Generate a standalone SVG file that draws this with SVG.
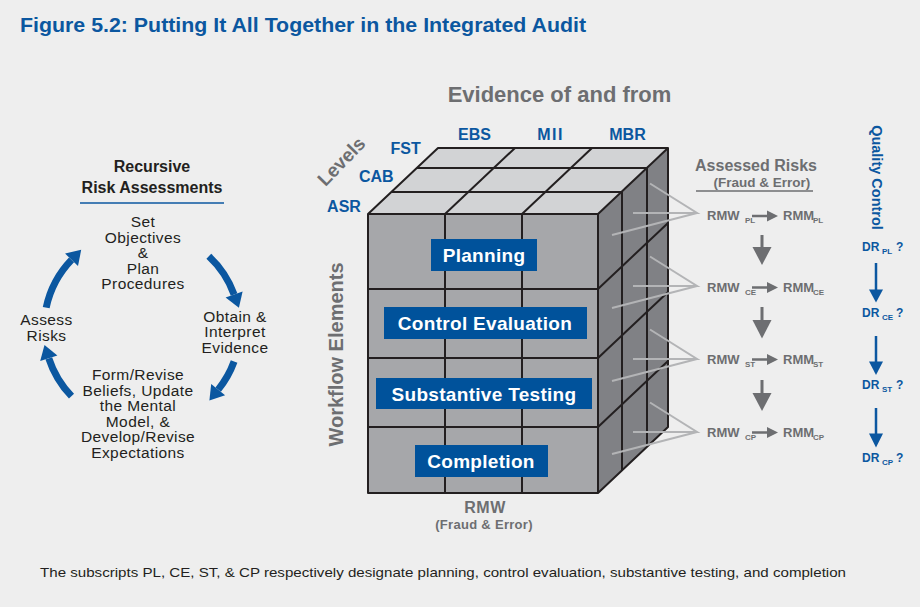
<svg xmlns="http://www.w3.org/2000/svg" width="920" height="607" viewBox="0 0 920 607">
<style>
text{font-family:"Liberation Sans",Arial,sans-serif}
.b{font-weight:bold}
.blue{fill:#0b57a0}
.gray{fill:#6d6e71}
.dark{fill:#231f20}
.cyc{font-size:15.5px;fill:#231f20;text-anchor:middle;letter-spacing:0.4px}
.edge{stroke:#231f20;stroke-width:2;fill:none;stroke-linejoin:round}
.hatch{stroke:#b3b4b6;stroke-width:2;fill:none}
.box{fill:#00529b}
.boxt{font-size:19px;font-weight:bold;fill:#fff;text-anchor:middle;letter-spacing:0.3px}
.arc{stroke:#0b57a0;stroke-width:7;fill:none}
.ahead{fill:#0b57a0}
.rm{font-size:13px;font-weight:bold;fill:#6d6e71}
.sub{font-size:8px;font-weight:bold;fill:#6d6e71}
.dr{font-size:12px;font-weight:bold;fill:#0b57a0}
.drs{font-size:8px;font-weight:bold;fill:#0b57a0}
.lvl{font-size:16px;font-weight:bold;fill:#0b57a0}
</style>
<rect width="920" height="607" fill="#eeeeee"/>

<g id="title">
<text x="20" y="32" class="b blue" font-size="21" textLength="566" lengthAdjust="spacingAndGlyphs">Figure 5.2: Putting It All Together in the Integrated Audit</text>
</g>

<!-- Left: recursive risk assessment cycle -->
<g id="cycle-header">
<text x="152" y="172" class="b dark" font-size="16" text-anchor="middle">Recursive</text>
<text x="152" y="193" class="b dark" font-size="16" text-anchor="middle">Risk Assessments</text>
<line x1="80" y1="203" x2="224" y2="203" stroke="#0b57a0" stroke-width="1.6"/>
</g>
<g id="node-set-objectives">
<text class="cyc" x="143" y="227">Set</text>
<text class="cyc" x="143" y="242.5">Objectives</text>
<text class="cyc" x="143" y="258">&amp;</text>
<text class="cyc" x="143" y="273.5">Plan</text>
<text class="cyc" x="143" y="289">Procedures</text>
</g>
<g id="node-obtain-evidence">
<text class="cyc" x="235" y="321.7">Obtain &amp;</text>
<text class="cyc" x="235" y="337.3">Interpret</text>
<text class="cyc" x="235" y="352.7">Evidence</text>
</g>
<g id="node-form-beliefs">
<text class="cyc" x="138" y="380">Form/Revise</text>
<text class="cyc" x="138" y="395.7">Beliefs, Update</text>
<text class="cyc" x="138" y="411">the Mental</text>
<text class="cyc" x="138" y="426.7">Model, &amp;</text>
<text class="cyc" x="138" y="442.3">Develop/Revise</text>
<text class="cyc" x="138" y="457.5">Expectations</text>
</g>
<g id="node-assess-risks">
<text class="cyc" x="46.5" y="325">Assess</text>
<text class="cyc" x="46.5" y="340.5">Risks</text>
</g>
<g id="cycle-connectors">
<path class="arc" d="M208.8,256.3 A98,98 0 0 1 234.1,294.5"/>
<polygon class="ahead" points="225.6,297.6 242.6,291.4 238.9,307.7"/>
<path class="arc" d="M234.1,361.5 A98,98 0 0 1 218.2,389.6"/>
<polygon class="ahead" points="211.2,384.0 225.1,395.3 209.4,400.5"/>
<path class="arc" d="M71.5,396.1 A98,98 0 0 1 48.8,358.3"/>
<polygon class="ahead" points="57.4,355.5 40.2,361.1 44.5,345.0"/>
<path class="arc" d="M46.2,307.6 A98,98 0 0 1 71.5,259.9"/>
<polygon class="ahead" points="78.0,266.1 65.1,253.6 81.2,249.8"/>
</g>

<!-- Cube -->
<g id="cube">
<polygon points="368,214 598,214 668,148 438,148" fill="#d2d3d5"/>
<polygon points="598,214 668,148 668,427 598,493" fill="#808185"/>
<rect x="368" y="214" width="230" height="279" fill="#a6a7aa"/>
<line class="edge" x1="445" y1="214" x2="515" y2="148"/>
<line class="edge" x1="522" y1="214" x2="592" y2="148"/>
<line class="edge" x1="392" y1="192" x2="622" y2="192"/>
<line class="edge" x1="417" y1="168" x2="647" y2="168"/>
<line class="edge" x1="445" y1="214" x2="445" y2="493"/>
<line class="edge" x1="522" y1="214" x2="522" y2="493"/>
<line class="edge" x1="368" y1="289" x2="598" y2="289"/>
<line class="edge" x1="368" y1="358" x2="598" y2="358"/>
<line class="edge" x1="368" y1="427" x2="598" y2="427"/>
<line class="edge" x1="622" y1="192" x2="622" y2="471"/>
<line class="edge" x1="647" y1="168" x2="647" y2="447"/>
<line class="edge" x1="598" y1="289" x2="668" y2="223"/>
<line class="edge" x1="598" y1="358" x2="668" y2="292"/>
<line class="edge" x1="598" y1="427" x2="668" y2="361"/>
<polygon class="edge" points="368,214 438,148 668,148 668,427 598,493 368,493"/>
<line class="edge" x1="368" y1="214" x2="598" y2="214"/>
<line class="edge" x1="598" y1="214" x2="668" y2="148"/>
<line class="edge" x1="598" y1="214" x2="598" y2="493"/>
</g>

<g id="node-planning">
<rect class="box" x="431" y="239" width="106" height="32"/>
<text class="boxt" x="484" y="262">Planning</text>
</g>
<g id="node-control-evaluation">
<rect class="box" x="384" y="307" width="203" height="32"/>
<text class="boxt" x="485" y="330">Control Evaluation</text>
</g>
<g id="node-substantive-testing">
<rect class="box" x="376" y="378" width="216" height="31"/>
<text class="boxt" x="484" y="400.5">Substantive Testing</text>
</g>
<g id="node-completion">
<rect class="box" x="415" y="445" width="133" height="32"/>
<text class="boxt" x="481" y="468">Completion</text>
</g>

<g id="cube-labels">
<text x="559.5" y="102" class="b gray" font-size="22" text-anchor="middle">Evidence of and from</text>
<text x="474.5" y="140" class="lvl" text-anchor="middle">EBS</text>
<text x="550.5" y="140" class="lvl" text-anchor="middle" letter-spacing="1.5">MII</text>
<text x="627.5" y="140" class="lvl" text-anchor="middle">MBR</text>
<text x="405.7" y="154" class="lvl" text-anchor="middle">FST</text>
<text x="376.3" y="182.3" class="lvl" text-anchor="middle">CAB</text>
<text x="344" y="211.7" class="lvl" text-anchor="middle">ASR</text>
<text transform="translate(346,166) rotate(-46)" class="b gray" font-size="19" text-anchor="middle">Levels</text>
<text transform="translate(342.5,354.5) rotate(-90)" class="b gray" font-size="20" text-anchor="middle">Workflow Elements</text>
<text x="485" y="513" class="b gray" font-size="16" text-anchor="middle" letter-spacing="0.5">RMW</text>
<text x="484" y="529" class="b gray" font-size="13" text-anchor="middle" letter-spacing="0.3">(Fraud &amp; Error)</text>
</g>

<g id="connectors">
<g class="hatch">
<polyline points="650,183.5 697,213 633,213"/><line x1="612" y1="235" x2="697" y2="213"/>
<polyline points="650,256.5 697,286 633,286"/><line x1="612" y1="308" x2="697" y2="286"/>
<polyline points="650,329.5 697,359 633,359"/><line x1="612" y1="381" x2="697" y2="359"/>
<polyline points="650,402.5 697,432 633,432"/><line x1="612" y1="454" x2="697" y2="432"/>
</g>
<g fill="#6d6e71" stroke="#6d6e71">
<line x1="752" y1="216" x2="768" y2="216" stroke-width="2.5"/><polygon stroke="none" points="767,210.5 778,216 767,221.5"/>
<line x1="752" y1="287.5" x2="768" y2="287.5" stroke-width="2.5"/><polygon stroke="none" points="767,282 778,287.5 767,293"/>
<line x1="752" y1="359.5" x2="768" y2="359.5" stroke-width="2.5"/><polygon stroke="none" points="767,354 778,359.5 767,365"/>
<line x1="752" y1="432.5" x2="768" y2="432.5" stroke-width="2.5"/><polygon stroke="none" points="767,427 778,432.5 767,438"/>
<line x1="762" y1="235" x2="762" y2="248" stroke-width="3"/><polygon stroke="none" points="752.5,247 771.5,247 762,265"/>
<line x1="762" y1="307" x2="762" y2="321" stroke-width="3"/><polygon stroke="none" points="752.5,320 771.5,320 762,338.5"/>
<line x1="762" y1="380" x2="762" y2="394" stroke-width="3"/><polygon stroke="none" points="752.5,393 771.5,393 762,411"/>
</g>
<g fill="#0b57a0" stroke="#0b57a0">
<line x1="876" y1="263" x2="876" y2="291" stroke-width="2.5"/><polygon stroke="none" points="869,289.5 883,289.5 876,302.5"/>
<line x1="876" y1="336" x2="876" y2="363" stroke-width="2.5"/><polygon stroke="none" points="869,361.5 883,361.5 876,375"/>
<line x1="876" y1="408" x2="876" y2="435" stroke-width="2.5"/><polygon stroke="none" points="869,433.5 883,433.5 876,447.5"/>
</g>
</g>

<g id="assessed-risks">
<text x="756" y="171" class="b gray" font-size="16" text-anchor="middle">Assessed Risks</text>
<text x="762" y="187" class="b gray" font-size="13.5" text-anchor="middle">(Fraud &amp; Error)</text>
<line x1="696" y1="191" x2="813" y2="191" stroke="#6d6e71" stroke-width="1.6"/>
</g>
<g id="node-rmw-pl"><text class="rm" x="707" y="220">RMW</text><text class="sub" x="745" y="222.5">PL</text><text class="rm" x="783" y="220">RMM</text><text class="sub" x="813" y="222.5">PL</text></g>
<g id="node-rmw-ce"><text class="rm" x="707" y="292">RMW</text><text class="sub" x="745" y="294.5">CE</text><text class="rm" x="783" y="292">RMM</text><text class="sub" x="813" y="294.5">CE</text></g>
<g id="node-rmw-st"><text class="rm" x="707" y="364">RMW</text><text class="sub" x="745" y="366.5">ST</text><text class="rm" x="783" y="364">RMM</text><text class="sub" x="813" y="366.5">ST</text></g>
<g id="node-rmw-cp"><text class="rm" x="707" y="437">RMW</text><text class="sub" x="745" y="439.5">CP</text><text class="rm" x="783" y="437">RMM</text><text class="sub" x="813" y="439.5">CP</text></g>

<g id="quality-control">
<text transform="translate(872,177.5) rotate(90)" class="b blue" font-size="14.5" text-anchor="middle">Quality Control</text>
</g>
<g id="node-dr-pl"><text class="dr" x="862" y="251">DR</text><text class="drs" x="882" y="254">PL</text><text class="dr" x="896" y="251">?</text></g>
<g id="node-dr-ce"><text class="dr" x="862" y="316.5">DR</text><text class="drs" x="882" y="319.5">CE</text><text class="dr" x="896" y="316.5">?</text></g>
<g id="node-dr-st"><text class="dr" x="862" y="389.3">DR</text><text class="drs" x="882" y="392.3">ST</text><text class="dr" x="896" y="389.3">?</text></g>
<g id="node-dr-cp"><text class="dr" x="862" y="461.7">DR</text><text class="drs" x="882" y="464.7">CP</text><text class="dr" x="896" y="461.7">?</text></g>

<g id="caption">
<text x="40" y="577" font-size="13.5" class="dark" textLength="806" lengthAdjust="spacingAndGlyphs">The subscripts PL, CE, ST, &amp; CP respectively designate planning, control evaluation, substantive testing, and completion</text>
</g>
</svg>
